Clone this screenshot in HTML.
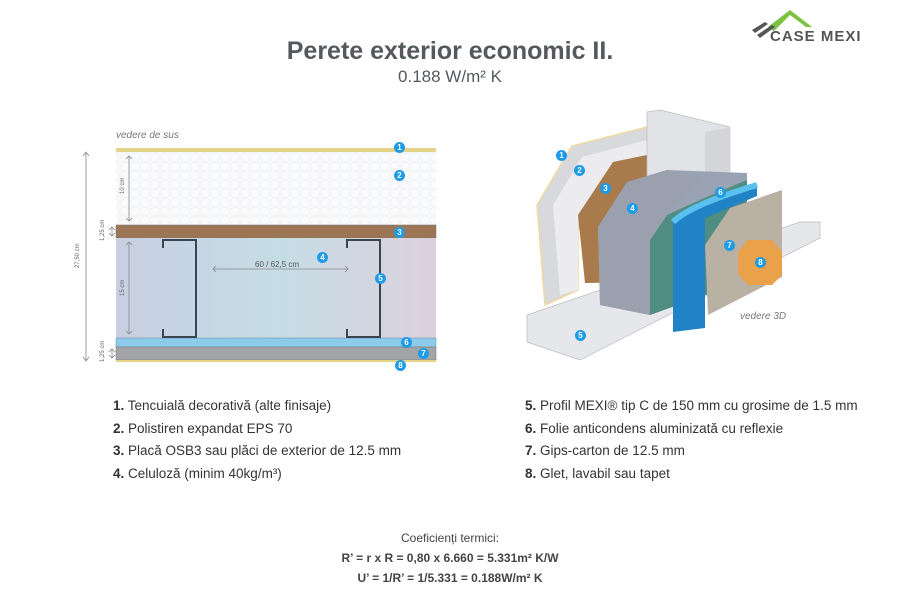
<!DOCTYPE html><html><head><meta charset="utf-8"><style>
body{margin:0;width:900px;height:600px;background:#fff;font-family:"Liberation Sans",sans-serif;position:relative;overflow:hidden}
.a{position:absolute;white-space:nowrap}
.b{position:absolute;width:11px;height:11px;border-radius:50%;background:#1e9be8;color:#fff;font-size:8px;line-height:11px;text-align:center;font-weight:bold}
.l{font-size:13.5px;color:#333;line-height:22.5px}
.r{position:absolute;font-size:6px;color:#666;transform:rotate(-90deg);transform-origin:left top;white-space:nowrap}
</style></head><body>
<svg class="a" style="left:0;top:0" width="900" height="600">
<polygon points="768,27 790,10 812,27 806,27 790,15 774,31" fill="#7bc142"/>
<polygon points="752,30 765,22 768,24 755,33" fill="#555"/>
<polygon points="757,35 772,25 775,27 760,38" fill="#555"/>
<rect x="116" y="148" width="320" height="4" fill="#e3d48a"/>
<defs><pattern id="hx" width="10" height="9" patternUnits="userSpaceOnUse"><circle cx="5" cy="4.5" r="4.3" fill="#fbfbfc" stroke="#eef0f3" stroke-width=".6"/></pattern>
<linearGradient id="cel" x1="0" x2="1"><stop offset="0" stop-color="#c8cfe2"/><stop offset=".5" stop-color="#c5dde5"/><stop offset="1" stop-color="#dcd0de"/></linearGradient></defs>
<rect x="116" y="152" width="320" height="73" fill="#f8f9fa"/>
<rect x="116" y="152" width="320" height="73" fill="url(#hx)"/>
<rect x="116" y="225" width="320" height="13" fill="#9c7654" stroke="#777" stroke-width=".5"/>
<rect x="116" y="238" width="320" height="100" fill="url(#cel)"/>
<rect x="116" y="338" width="320" height="9" fill="#8dcbea" stroke="#6a8a9a" stroke-width=".5"/>
<rect x="116" y="347" width="320" height="13" fill="#a3a4a8" stroke="#777" stroke-width=".5"/>
<rect x="116" y="360" width="320" height="2" fill="#e6d488"/>
<path d="M163,248 V240 H196 V337 H163 V329 M347,248 V240 H380 V337 H347 V329" fill="none" stroke="#3a4550" stroke-width="2"/>
<g stroke="#888" fill="none" stroke-width=".8">
<path d="M86,153 V360 M83,156 L86,152 L89,156 M83,357 L86,361 L89,357"/>
<path d="M129,156 V221 M126,159 L129,156 L132,159 M126,218 L129,221 L132,218"/>
<path d="M129,242 V334 M126,245 L129,242 L132,245 M126,331 L129,334 L132,331"/>
<path d="M213,269 H348 M216,266 L213,269 L216,272 M345,266 L348,269 L345,272"/>
<path d="M112,227 V236 M109,230 L112,227 L115,230 M109,233 L112,236 L115,233"/>
<path d="M112,349 V358 M109,352 L112,349 L115,352 M109,355 L112,358 L115,355"/>
</g>
<polygon points="527,315 800,222 820,222 820,238 580,360 527,342" fill="#e6e7ea" stroke="#bbb" stroke-width=".7"/>
<polygon points="537,205 572,146 647,127 647,175 598,190 578,230 578,290 545,305" fill="#d8d9dc" stroke="#f0d9a0" stroke-width="1.5"/>
<polygon points="553,205 582,157 647,140 647,155 613,162 578,215 578,290 560,295" fill="#ececee"/>
<polygon points="578,215 613,162 647,155 647,282 585,283" fill="#a87a4c"/>
<polygon points="647,112 660,110 730,127 730,205 647,205" fill="#e2e3e6" stroke="#bbb" stroke-width=".7"/>
<polygon points="705,132 730,127 730,205 705,205" fill="#d4d5d9"/>
<polygon points="598,227 627,182 667,170 747,173 747,280 650,315 600,305" fill="#9aa3b3"/>
<polygon points="667,215 700,200 747,180 747,280 650,315 650,240" fill="#4f8d82"/>
<polygon points="598,227 627,182 667,170 700,178 667,215 650,240 650,315 600,305" fill="#9aa0ae"/>
<polygon points="673,222 690,210 757,185 757,196 705,218 705,328 673,332" fill="#1f83c6"/>
<path d="M673,222 Q690,205 757,185" stroke="#5bc0ee" stroke-width="6" fill="none"/>
<polygon points="705,245 730,208 782,190 782,277 708,315" fill="#b8b1a4"/>
<polygon points="748,240 772,240 782,252 782,275 772,285 748,285 738,274 738,252" fill="#e9a24a"/>
</svg>
<div class="r" style="left:120px;top:194px">10 cm</div>
<div class="r" style="left:120px;top:296px">15 cm</div>
<div class="r" style="left:75px;top:268px">27,50 cm</div>
<div class="r" style="left:100px;top:241px">1,25 cm</div>
<div class="r" style="left:100px;top:362px">1,25 cm</div>
<div class="a" style="left:0;width:900px;top:37px;text-align:center;font-size:25px;font-weight:bold;color:#55595e">Perete exterior economic II.</div>
<div class="a" style="left:0;width:900px;top:67px;text-align:center;font-size:17px;color:#55595e">0.188 W/m² K</div>
<div class="a" style="left:770px;top:28px;font-size:15px;font-weight:bold;color:#555;letter-spacing:1px">CASE MEXI</div>
<div class="a" style="left:116px;top:130px;font-size:10px;font-style:italic;color:#777">vedere de sus</div>
<div class="a" style="left:740px;top:311px;font-size:10px;font-style:italic;color:#777">vedere 3D</div>
<div class="a" style="left:255px;top:260px;font-size:8px;color:#555">60 / 62,5 cm</div>
<div class="b" style="left:394px;top:142px">1</div><div class="b" style="left:394px;top:170px">2</div><div class="b" style="left:394px;top:227px">3</div><div class="b" style="left:317px;top:252px">4</div><div class="b" style="left:375px;top:273px">5</div><div class="b" style="left:401px;top:337px">6</div><div class="b" style="left:418px;top:348px">7</div><div class="b" style="left:395px;top:360px">8</div>
<div class="b" style="left:556px;top:150px">1</div><div class="b" style="left:574px;top:165px">2</div><div class="b" style="left:600px;top:183px">3</div><div class="b" style="left:627px;top:203px">4</div><div class="b" style="left:575px;top:330px">5</div><div class="b" style="left:715px;top:187px">6</div><div class="b" style="left:724px;top:240px">7</div><div class="b" style="left:755px;top:257px">8</div>
<div class="a l" style="left:113px;top:395px"><b>1.</b> Tencuială decorativă (alte finisaje)<br><b>2.</b> Polistiren expandat EPS 70<br><b>3.</b> Placă OSB3 sau plăci de exterior de 12.5 mm<br><b>4.</b> Celuloză (minim 40kg/m³)</div>
<div class="a l" style="left:525px;top:395px"><b>5.</b> Profil MEXI® tip C de 150 mm cu grosime de 1.5 mm<br><b>6.</b> Folie anticondens aluminizată cu reflexie<br><b>7.</b> Gips-carton de 12.5 mm<br><b>8.</b> Glet, lavabil sau tapet</div>
<div class="a" style="left:0;width:900px;top:528px;text-align:center;font-size:12px;color:#444;line-height:20px">Coeficienți termici:<br><b>R’ = r x R = 0,80 x 6.660 = 5.331m² K/W</b><br><b>U’ = 1/R’ = 1/5.331 = 0.188W/m² K</b></div>
</body></html>
